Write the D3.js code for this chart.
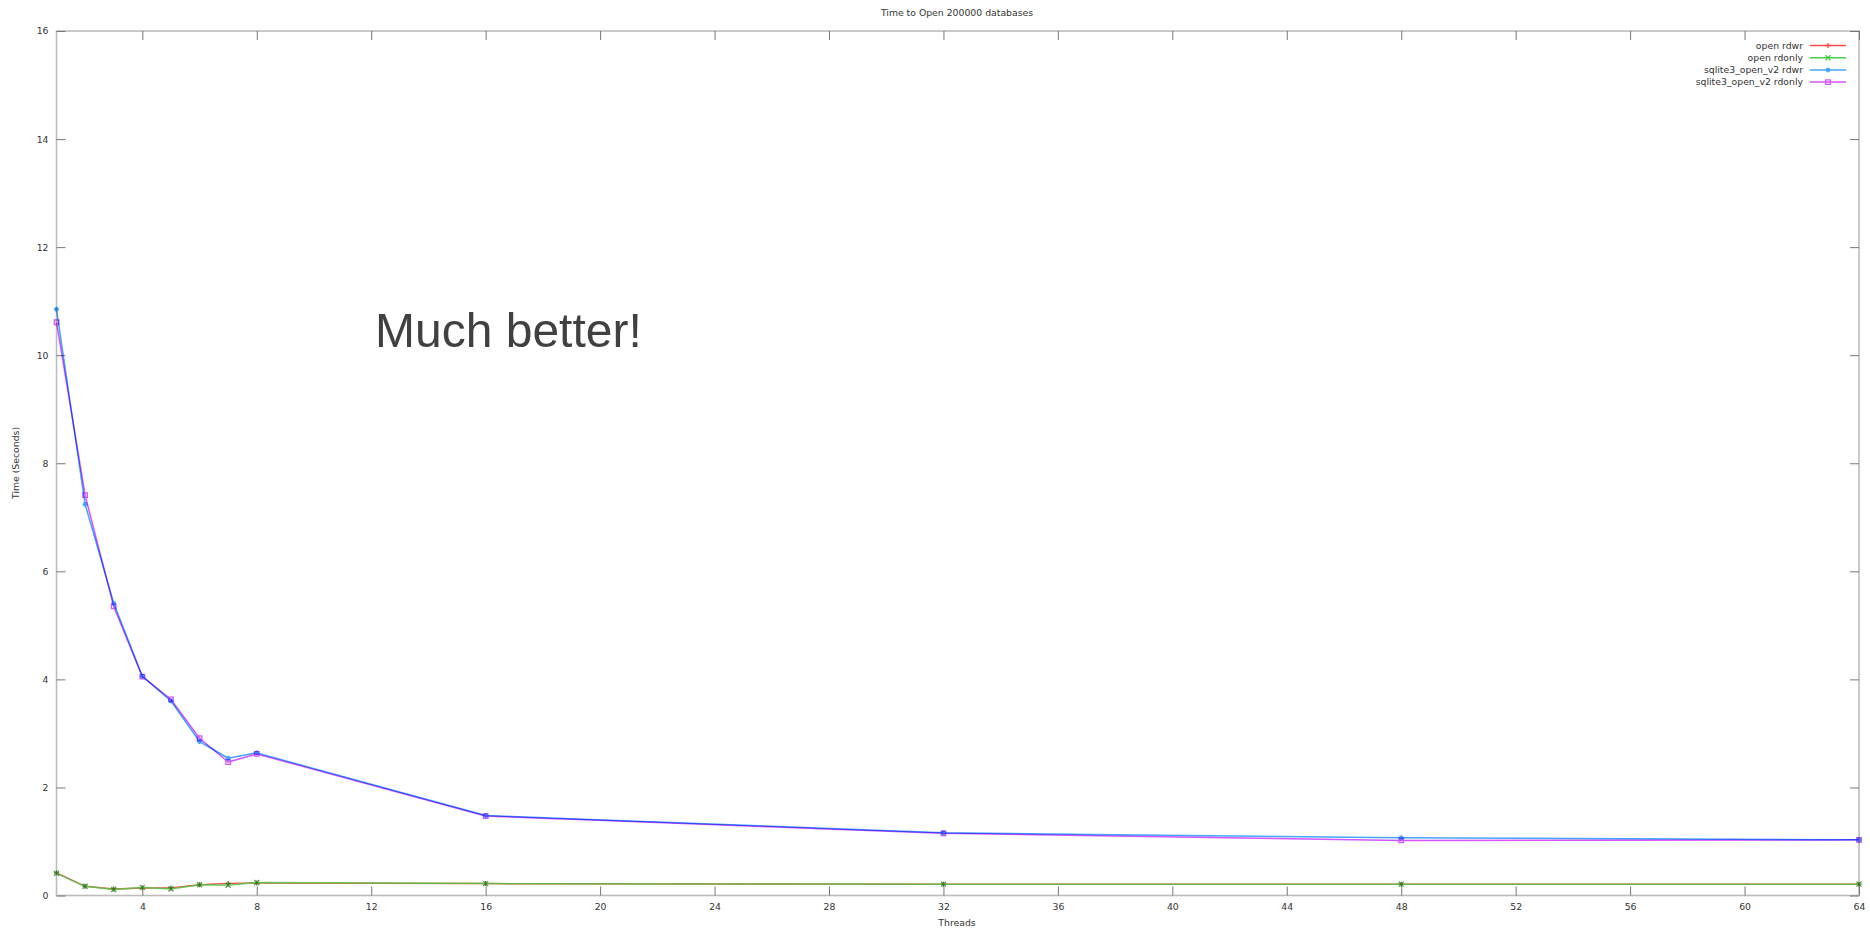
<!DOCTYPE html>
<html><head><meta charset="utf-8">
<script src="https://cdn.jsdelivr.net/npm/d3@7"></script>
<style>body{margin:0;background:#fff}svg{display:block}</style>
</head><body><svg id="c" width="1870" height="930"></svg>
<script>
// ---- data ----
const threads = [1, 2, 3, 4, 5, 6, 7, 8, 16, 32, 48, 64];
const openRdwr = [0.42, 0.17, 0.12, 0.14, 0.14, 0.20, 0.22, 0.23, 0.22, 0.21, 0.21, 0.21];
const openRdonly = [0.41, 0.17, 0.11, 0.15, 0.12, 0.20, 0.19, 0.24, 0.22, 0.21, 0.21, 0.21];
const sqliteRdwr = [10.85, 7.24, 5.41, 4.06, 3.60, 2.85, 2.54, 2.64, 1.48, 1.16, 1.07, 1.03];
const sqliteRdonly = [10.61, 7.41, 5.35, 4.05, 3.63, 2.91, 2.47, 2.62, 1.47, 1.15, 1.02, 1.03];
const seriesNames = ["open rdwr", "open rdonly", "sqlite3_open_v2 rdwr", "sqlite3_open_v2 rdonly"];
const yTicks = [0, 2, 4, 6, 8, 10, 12, 14, 16];
const xTicks = [4, 8, 12, 16, 20, 24, 28, 32, 36, 40, 44, 48, 52, 56, 60, 64];
const titleText = "Time to Open 200000 databases";
const xLabel = "Threads";
const yLabel = "Time (Seconds)";
const note = "Much better!";

// ---- styles ----
const colors = ["#ff4a4a", "#45d045", "#45a5ff", "#d455ff"];
const markers = ["plus", "cross", "star", "square"];
const blends = ["normal", "normal", "multiply", "multiply"];
const opacities = [1, 0.8, 1, 1];
const font = "'DejaVu Sans', sans-serif";
const fs = 9.3;

const svg = d3.select("#c");
svg.append("rect").attr("width", 1870).attr("height", 930).attr("fill", "#fff");

const L = 56.5, R = 1859, T = 31, B = 895.5;
const x = d3.scaleLinear().domain([1, 64]).range([L, R]);
const y = d3.scaleLinear().domain([0, 16]).range([B, T]);

function styleAxis(g, hide) {
  g.select(".domain").remove();
  g.selectAll(".tick line").attr("stroke", "#777").attr("stroke-width", 1);
  g.selectAll(".tick text").attr("fill", "#333").style("font-family", font).style("font-size", fs + "px");
  if (hide) g.selectAll(".tick text").remove();
}

// border
svg.append("rect").attr("x", L).attr("y", T).attr("width", R - L).attr("height", B - T)
  .attr("fill", "none").attr("stroke", "#bcbcbc").attr("stroke-width", 1.6);

svg.append("g").attr("transform", `translate(${L},0)`)
  .call(d3.axisLeft(y).tickValues(yTicks).tickSize(-9).tickPadding(8).tickFormat(d3.format("d")))
  .call(g => styleAxis(g, false));
svg.append("g").attr("transform", `translate(${R},0)`)
  .call(d3.axisRight(y).tickValues(yTicks).tickSize(-9))
  .call(g => styleAxis(g, true));
svg.append("g").attr("transform", `translate(0,${B})`)
  .call(d3.axisBottom(x).tickValues(xTicks).tickSize(-9).tickPadding(8).tickFormat(d3.format("d")))
  .call(g => styleAxis(g, false));
svg.append("g").attr("transform", `translate(0,${T})`)
  .call(d3.axisTop(x).tickValues(xTicks).tickSize(-9))
  .call(g => styleAxis(g, true));

// labels
svg.append("text").attr("x", 957).attr("y", 16).attr("text-anchor", "middle")
  .style("font-family", font).style("font-size", fs + "px").attr("fill", "#333").text(titleText);
svg.append("text").attr("x", 957).attr("y", 926).attr("text-anchor", "middle")
  .style("font-family", font).style("font-size", fs + "px").attr("fill", "#333").text(xLabel);
svg.append("text").attr("transform", "translate(19,463) rotate(-90)").attr("text-anchor", "middle")
  .style("font-family", font).style("font-size", fs + "px").attr("fill", "#333").text(yLabel);

// marker path
function markerPath(type, s) {
  const h = s / 2;
  if (type === "plus") return `M${-h},0H${h}M0,${-h}V${h}`;
  if (type === "cross") return `M${-h},${-h}L${h},${h}M${-h},${h}L${h},${-h}`;
  if (type === "star") return `M${-h},0H${h}M0,${-h}V${h}M${-h*0.7},${-h*0.7}L${h*0.7},${h*0.7}M${-h*0.7},${h*0.7}L${h*0.7},${-h*0.7}`;
  return `M${-h},${-h}H${h}V${h}H${-h}Z`;
}

const allSeries = [openRdwr, openRdonly, sqliteRdwr, sqliteRdonly];
const line = d3.line().x(d => x(d[0])).y(d => y(d[1]));
const plot = svg.append("g");
allSeries.forEach((vals, i) => {
  const pts = threads.map((t, j) => [t, vals[j]]);
  const g = plot.append("g").style("mix-blend-mode", blends[i]).attr("opacity", opacities[i]);
  g.append("path").datum(pts).attr("d", line).attr("fill", "none")
    .attr("stroke", colors[i]).attr("stroke-width", 1.5).attr("stroke-linejoin", "round");
  g.selectAll("path.m").data(pts).join("path").attr("class", "m")
    .attr("transform", d => `translate(${x(d[0])},${y(d[1])})`)
    .attr("d", markerPath(markers[i], markers[i] === "square" ? 4.5 : 5))
    .attr("fill", "none").attr("stroke", i < 2 ? "#3a7a20" : colors[i]).attr("stroke-width", 1.3);
});

// legend
const lg = svg.append("g");
seriesNames.forEach((n, i) => {
  const ly = 45.5 + i * 12.2;
  lg.append("text").attr("x", 1803).attr("y", ly).attr("dy", "0.35em").attr("text-anchor", "end")
    .style("font-family", font).style("font-size", fs + "px").attr("fill", "#333").text(n);
  lg.append("line").attr("x1", 1810).attr("x2", 1846).attr("y1", ly).attr("y2", ly)
    .attr("stroke", colors[i]).attr("stroke-width", 1.5);
  lg.append("path").attr("transform", `translate(1828,${ly})`)
    .attr("d", markerPath(markers[i], markers[i] === "square" ? 4.5 : 5))
    .attr("fill", "none").attr("stroke", colors[i]).attr("stroke-width", 1.3);
});

// annotation
svg.append("text").attr("x", 375).attr("y", 347)
  .style("font-family", "'Liberation Sans', Arial, sans-serif").style("font-size", "48px")
  .attr("fill", "#404040").text(note);
</script>
</body></html>
